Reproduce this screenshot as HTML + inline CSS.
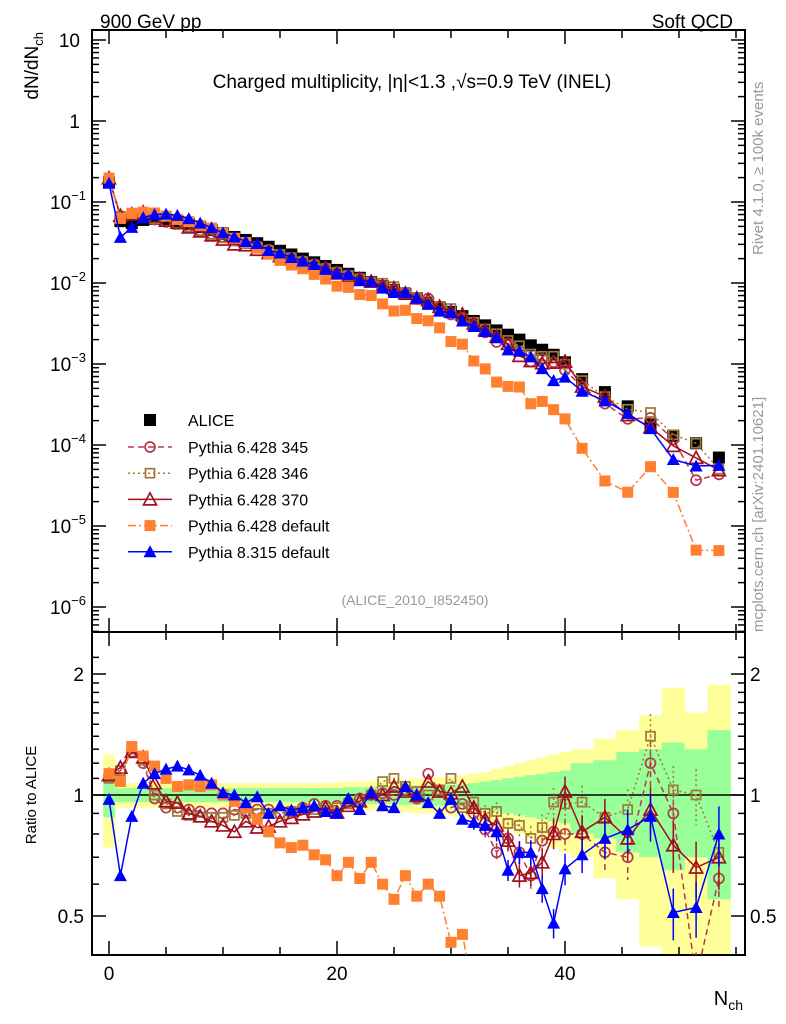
<!DOCTYPE html>
<html><head><meta charset="utf-8"><style>
html,body{margin:0;padding:0;background:#fff;width:786px;height:1024px;overflow:hidden}
svg{display:block;font-family:"Liberation Sans",sans-serif}
</style></head><body>
<svg id="c" width="786" height="1024" viewBox="0 0 786 1024" xmlns="http://www.w3.org/2000/svg">
<defs>
<clipPath id="cm"><rect x="92" y="30" width="653" height="602"/></clipPath>
<clipPath id="cr"><rect x="92" y="632" width="653" height="323"/></clipPath>
</defs>
<text x="100" y="28" font-size="19">900 GeV pp</text>
<text x="733" y="28" font-size="19" text-anchor="end">Soft QCD</text>
<text x="412" y="88" font-size="19" text-anchor="middle">Charged multiplicity, |η|&lt;1.3 ,√s=0.9 TeV (INEL)</text>
<text x="415" y="605" font-size="14" fill="#999" text-anchor="middle">(ALICE_2010_I852450)</text>
<text transform="translate(38,32) rotate(-90)" font-size="19" text-anchor="end">dN/dN<tspan font-size="13" dy="5">ch</tspan></text>
<text transform="translate(36,795) rotate(-90)" font-size="15" text-anchor="middle">Ratio to ALICE</text>
<text x="743" y="1005" font-size="20" text-anchor="end">N<tspan font-size="14" dy="5">ch</tspan></text>
<text transform="translate(763,255) rotate(-90)" font-size="15" fill="#999">Rivet 4.1.0, ≥ 100k events</text>
<text transform="translate(763,632) rotate(-90)" font-size="15" fill="#999">mcplots.cern.ch [arXiv:2401.10621]</text>
<g id="bands" clip-path="url(#cr)"></g>
<g id="axes"></g>
<g id="mainMarks" clip-path="url(#cm)"></g>
<g id="ratioMarks" clip-path="url(#cr)"></g>
<g id="legend"></g>
</svg>
<script>
const nch=[0,1,2,3,4,5,6,7,8,9,10,11,12,13,14,15,16,17,18,19,20,21,22,23,24,25,26,27,28,29,30,31,32,33,34,35,36,37,38,39,40,41.5,43.5,45.5,47.5,49.5,51.5,53.5];
const alice=[0.175,0.058,0.055,0.06,0.062,0.061,0.058,0.054,0.049,0.045,0.041,0.037,0.034,0.031,0.028,0.025,0.0225,0.020,0.018,0.0162,0.0145,0.013,0.0116,0.0103,0.0092,0.0082,0.0073,0.0065,0.0057,0.0050,0.0044,0.0039,0.0034,0.0030,0.0026,0.0023,0.0020,0.0017,0.0015,0.0013,0.00105,0.00065,0.00045,0.0003,0.00018,0.00013,0.000105,0.00007];
const yellowErr=[0.26,0.07,0.07,0.07,0.07,0.07,0.07,0.07,0.07,0.07,0.07,0.07,0.07,0.07,0.07,0.07,0.07,0.07,0.07,0.07,0.075,0.08,0.08,0.085,0.09,0.09,0.095,0.1,0.1,0.105,0.11,0.12,0.13,0.14,0.16,0.18,0.2,0.22,0.24,0.26,0.28,0.3,0.38,0.45,0.58,0.85,0.6,0.88];
const greenErr=[0.12,0.04,0.04,0.04,0.04,0.04,0.04,0.04,0.04,0.04,0.04,0.04,0.04,0.04,0.04,0.04,0.04,0.04,0.04,0.04,0.04,0.045,0.045,0.05,0.05,0.05,0.055,0.055,0.06,0.06,0.06,0.065,0.07,0.08,0.09,0.1,0.11,0.12,0.13,0.14,0.15,0.2,0.22,0.28,0.3,0.35,0.3,0.45];
const r345=[1.12,1.15,1.28,1.2,0.98,0.93,0.93,0.92,0.91,0.9,0.9,0.92,0.91,0.92,0.92,0.9,0.91,0.93,0.95,0.94,0.94,0.96,0.98,1.0,1.01,1.0,1.03,0.98,1.13,1.02,0.93,0.95,0.9,0.82,0.72,0.78,0.72,0.63,0.77,0.81,0.8,0.8,0.72,0.7,1.2,0.9,0.35,0.62];
const r346=[1.1,1.15,1.3,1.22,1.0,0.95,0.91,0.89,0.88,0.88,0.88,0.89,0.9,0.9,0.9,0.9,0.91,0.92,0.92,0.93,0.93,0.95,0.97,1.0,1.08,1.1,1.05,1.02,1.0,1.03,1.1,0.93,0.96,0.9,0.91,0.85,0.84,0.78,0.83,0.96,0.95,0.96,0.88,0.92,1.4,1.03,1.0,0.72];
const r370=[1.12,1.17,1.28,1.24,1.07,0.965,0.957,0.9,0.885,0.86,0.84,0.81,0.86,0.83,0.835,0.86,0.877,0.895,0.91,0.93,0.905,0.94,0.965,1.01,1.0,1.05,1.02,0.995,1.08,1.02,1.01,1.05,0.93,0.87,0.84,0.77,0.63,0.64,0.68,0.8,1.02,0.81,0.88,0.78,0.92,0.75,0.66,0.7];
const rDef=[1.13,1.08,1.32,1.25,1.18,1.1,1.05,1.06,1.05,1.06,1.0,0.965,0.93,0.87,0.81,0.76,0.74,0.75,0.71,0.69,0.63,0.68,0.62,0.68,0.6,0.55,0.63,0.56,0.6,0.56,0.43,0.45,0.32,0.29,0.23,0.23,0.26,0.19,0.23,0.21,0.2,0.14,0.08,0.087,0.3,0.2,0.048,0.071];
const r8=[0.975,0.63,0.885,1.07,1.13,1.16,1.18,1.155,1.12,1.07,1.013,1.0,0.957,0.99,0.9,0.94,0.917,0.93,0.94,0.91,0.9,0.98,0.92,1.013,0.94,0.93,1.05,1.0,0.957,0.9,0.975,0.87,0.855,0.84,0.81,0.65,0.72,0.72,0.585,0.48,0.655,0.71,0.78,0.82,0.885,0.51,0.525,0.8];
const xTicks=[0,20,40];
const ratioTicks=[0.5,1,2];

const NS="http://www.w3.org/2000/svg";
const X=n=>109+n*11.4;
const YM=v=>40+(1-Math.log10(v))*81;
const YR=r=>795-Math.log2(r)*121;
function mk(tag,at,parent){const e=document.createElementNS(NS,tag);for(const k in at)e.setAttribute(k,at[k]);parent.appendChild(e);return e;}
const axes=document.getElementById('axes');
const bands=document.getElementById('bands');
const MM=document.getElementById('mainMarks');
const RM=document.getElementById('ratioMarks');
const LG=document.getElementById('legend');

nch.forEach((n,i)=>{
  const hw=(n%1===0)?0.5:1;
  const x0=X(n-hw),x1=X(n+hw);
  let e=mk('rect',{x:x0,y:YR(1+yellowErr[i]),width:x1-x0+0.5,height:YR(Math.max(1-yellowErr[i],0.05))-YR(1+yellowErr[i]),fill:'#ffff99'},bands);
  
  
  e=mk('rect',{x:x0,y:YR(1+greenErr[i]),width:x1-x0+0.5,height:YR(1-greenErr[i])-YR(1+greenErr[i]),fill:'#99ff99'},bands);
  
  
});

let f=mk('rect',{x:92,y:30,width:653,height:602,fill:'none',stroke:'#000','stroke-width':2},axes);


f=mk('rect',{x:92,y:632,width:653,height:323,fill:'none',stroke:'#000','stroke-width':2},axes);


let ln=mk('line',{x1:92,x2:745,y1:YR(1),y2:YR(1),stroke:'#000','stroke-width':1.5},axes);



for(let n=0;n<=55;n+=5){
  const major=xTicks.includes(n);const L=major?14:8;
  for(const [yb,yt] of [[632,30],[955,632]]){
    mk('line',{x1:X(n),x2:X(n),y1:yb,y2:yb-L,stroke:'#000','stroke-width':1.5},axes);
    mk('line',{x1:X(n),x2:X(n),y1:yt,y2:yt+L,stroke:'#000','stroke-width':1.5},axes);
  }
}
xTicks.forEach(n=>{const t=mk('text',{x:X(n),y:980,'font-size':19,'text-anchor':'middle'},axes);t.textContent=n;

});

for(let d=-7;d<=1;d++){
  for(let k=1;k<=9;k++){
    const v=k*Math.pow(10,d);const y=YM(v);
    if(y<30||y>632)continue;
    const L=k===1?14:7;
    mk('line',{x1:92,x2:92+L,y1:y,y2:y,stroke:'#000','stroke-width':1.5},axes);
    mk('line',{x1:745,x2:745-L,y1:y,y2:y,stroke:'#000','stroke-width':1.5},axes);
  }
  const y=YM(Math.pow(10,d));
  if(y<30||y>632)continue;
  let t;
  if(d===1){t=mk('text',{x:80,y:y+7,'font-size':19,'text-anchor':'end'},axes);t.textContent='10';}
  else if(d===0){t=mk('text',{x:80,y:y+7,'font-size':19,'text-anchor':'end'},axes);t.textContent='1';}
  else{t=mk('text',{x:86,y:y+7,'font-size':19,'text-anchor':'end'},axes);
    t.innerHTML='10<tspan font-size="13" dy="-9">−'+(-d)+'</tspan>';}
  
  
}
for(let r=0.4;r<=2.35;r+=(r<1.99?0.1:0.2)){
  const rr=Math.round(r*10)/10;const y=YR(rr);if(y<632||y>955)continue;
  const L=ratioTicks.includes(rr)?14:7;
  mk('line',{x1:92,x2:92+L,y1:y,y2:y,stroke:'#000','stroke-width':1.5},axes);
  mk('line',{x1:745,x2:745-L,y1:y,y2:y,stroke:'#000','stroke-width':1.5},axes);
}
ratioTicks.forEach(r=>{
  let t=mk('text',{x:84,y:YR(r)+7,'font-size':19,'text-anchor':'end'},axes);t.textContent=r;
  
  
  t=mk('text',{x:750,y:YR(r)+7,'font-size':19},axes);t.textContent=r;
  
  
});

function marker(g,type,x,y,col,s){
  s=s||5;let e;
  if(type==='fsq')e=mk('rect',{x:x-s,y:y-s,width:2*s,height:2*s,fill:col},g);
  else if(type==='osq')e=mk('rect',{x:x-s+1,y:y-s+1,width:2*s-2,height:2*s-2,fill:'none',stroke:col,'stroke-width':1.7},g);
  else if(type==='oci')e=mk('circle',{cx:x,cy:y,r:s-0.5,fill:'none',stroke:col,'stroke-width':1.7},g);
  else if(type==='otr')e=mk('polygon',{points:`${x},${y-s-1} ${x-s-1},${y+s} ${x+s+1},${y+s}`,fill:'none',stroke:col,'stroke-width':1.7},g);
  else e=mk('polygon',{points:`${x},${y-s-1} ${x-s-1},${y+s} ${x+s+1},${y+s}`,fill:col},g);
  return e;
}
const series=[
 {name:'pythia-6428-345',label:'Pythia 6.428 345',r:r345,col:'#b5384e',type:'oci',dash:'6,4'},
 {name:'pythia-6428-346',label:'Pythia 6.428 346',r:r346,col:'#a07838',type:'osq',dash:'2,3'},
 {name:'pythia-6428-370',label:'Pythia 6.428 370',r:r370,col:'#a01020',type:'otr',dash:''},
 {name:'pythia-6428-default',label:'Pythia 6.428 default',r:rDef,col:'#ff8030',type:'fsq',dash:'8,3,2,3'},
 {name:'pythia-8315-default',label:'Pythia 8.315 default',r:r8,col:'#0000ff',type:'ftr',dash:''}
];
alice.forEach((v,i)=>{const e=marker(MM,'fsq',X(nch[i]),YM(v),'#000',6);
  
  });
series.forEach(s=>{
  const mp=nch.map((n,i)=>X(n)+','+YM(alice[i]*s.r[i])).join(' ');
  let p=mk('polyline',{points:mp,fill:'none',stroke:s.col,'stroke-width':1.5,'stroke-dasharray':s.dash},MM);
  
  
  const rp=nch.map((n,i)=>X(n)+','+YR(s.r[i])).join(' ');
  p=mk('polyline',{points:rp,fill:'none',stroke:s.col,'stroke-width':1.5,'stroke-dasharray':s.dash},RM);
  
  
  nch.forEach((n,i)=>{
    if(n>=32){
      const rr=s.r[i],er=0.03+(n-30)*0.006;
      mk('line',{x1:X(n),x2:X(n),y1:YR(rr*(1+er)),y2:YR(rr*(1-er)),stroke:s.col,'stroke-width':1.5,'stroke-dasharray':s.dash},RM);
    }
    let e=marker(MM,s.type,X(n),YM(alice[i]*s.r[i]),s.col,5.5);
    
    
    e=marker(RM,s.type,X(n),YR(s.r[i]),s.col,5.5);
    
    
  });
});
let ly=420;
let e=marker(LG,'fsq',150,ly,'#000',6);


let t=mk('text',{x:188,y:ly+6,'font-size':16},LG);t.textContent='ALICE';


series.forEach((s,k)=>{
  const y=447+k*26.2;
  mk('line',{x1:128,x2:172,y1:y,y2:y,stroke:s.col,'stroke-width':1.5,'stroke-dasharray':s.dash},LG);
  const m=marker(LG,s.type,150,y,s.col,5.5);
  
  
  const tt=mk('text',{x:188,y:y+6,'font-size':16},LG);tt.textContent=s.label;
  
  
});
</script>
</body></html>
